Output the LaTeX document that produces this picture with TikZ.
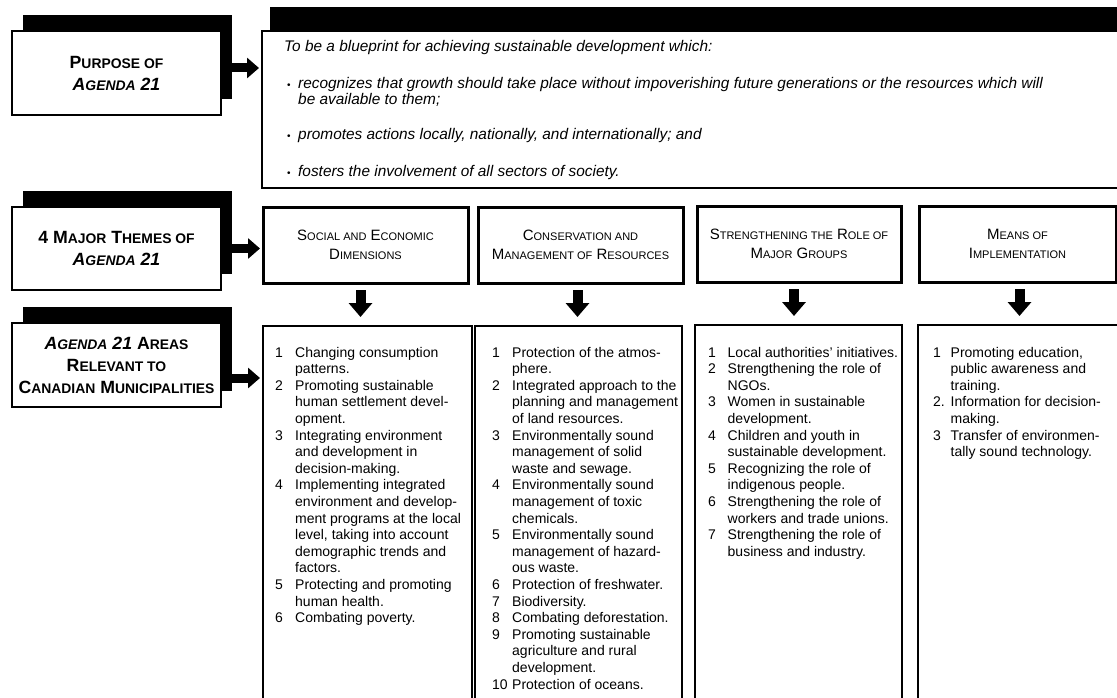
\documentclass[tikz,border=0pt]{standalone}
\usepackage{fontspec}
\setmainfont{Liberation Sans}
\usetikzlibrary{arrows.meta,shadows,calc}
\newcommand\LB[1]{{\fontsize{17.7}{22}\selectfont #1}}
\newcommand\LS[1]{{\fontsize{13.9}{22}\selectfont #1}}
\newcommand\TB[1]{{\fontsize{15}{19}\selectfont #1}}
\newcommand\TS[1]{{\fontsize{11}{19}\selectfont #1}}
\begin{document}
\begin{tikzpicture}[x=1pt,y=-1pt,
  lbl/.style={draw, line width=1.5pt, fill=white, inner sep=0pt, outer sep=0pt,
    anchor=north west, align=center, minimum width=209pt,
    font=\fontsize{17.7}{22}\selectfont\bfseries,
    drop shadow={shadow xshift=11pt, shadow yshift=16pt, fill=black, opacity=1}},
  thm/.style={draw, line width=3pt, fill=white, inner sep=0pt, outer sep=0pt,
    anchor=north west, align=center, minimum height=76pt,
    font=\fontsize{15}{19}\selectfont},
  area/.style={draw, line width=2pt, inner sep=0pt, outer sep=0pt,
    anchor=north west, minimum height=400pt},
  coltext/.style={anchor=base west, inner sep=0pt, font=\fontsize{14}{16.6}\selectfont},
  ptxt/.style={anchor=base west, inner sep=0pt, font=\fontsize{15.4}{15}\selectfont\itshape},
  bul/.style={anchor=base west, inner sep=0pt, font=\fontsize{10}{15}\selectfont},
  rarrow/.style={line width=9pt, -{Triangle[length=12pt,width=20pt]}, shorten >=3pt},
  darrow/.style={line width=10pt, -{Triangle[length=14pt,width=23pt]}}
]
\useasboundingbox (0,0) rectangle (1117,698);
\clip (0,0) rectangle (1117,698);
\fill[white] (0,0) rectangle (1117,698);

% left labels
\node[lbl, minimum height=84pt] (p1) at (12,31)
  {\LB{P}\LS{URPOSE OF}\\\textit{\LB{A}\LS{GENDA} \LB{21}}};
\node[lbl, minimum height=83pt] (t1) at (12,207)
  {\LB{4 M}\LS{AJOR} \LB{T}\LS{HEMES OF}\\\textit{\LB{A}\LS{GENDA} \LB{21}}};
\node[lbl, minimum height=84pt] (a1) at (12,323)
  {\textit{\LB{A}\LS{GENDA} \LB{21}} \LB{A}\LS{REAS}\\\LB{R}\LS{ELEVANT TO}\\\LB{C}\LS{ANADIAN} \LB{M}\LS{UNICIPALITIES}};

% purpose content box
\node[draw, line width=2pt, fill=white, inner sep=0pt, outer sep=0pt, anchor=north west,
  minimum width=880pt, minimum height=157pt,
  drop shadow={shadow xshift=8pt, shadow yshift=24pt, fill=black, opacity=1}] (p2) at (262,31) {};
\node[ptxt] (intro) at (284,52) {To be a blueprint for achieving sustainable development which:};
\node[bul] (d1) at (287,89) {\textbullet};
\node[ptxt] (b1) at (298,89) {\begin{tabular}[t]{@{}l@{}}recognizes that growth should take place without impoverishing future generations or the resources which will\\be available to them;\end{tabular}};
\node[bul] (d2) at (287,140) {\textbullet};
\node[ptxt] (b2) at (298,140) {promotes actions locally, nationally, and internationally; and};
\node[bul] (d3) at (287,176) {\textbullet};
\node[ptxt] (b3) at (298,176) {fosters the involvement of all sectors of society.};

% theme boxes
\node[thm, minimum width=205pt] (s1) at (263,207) {\TB{S}\TS{OCIAL AND} \TB{E}\TS{CONOMIC}\\\TB{D}\TS{IMENSIONS}};
\node[thm, minimum width=205pt] (s2) at (478,207) {\TB{C}\TS{ONSERVATION AND}\\\TB{M}\TS{ANAGEMENT OF} \TB{R}\TS{ESOURCES}};
\node[thm, minimum width=204pt] (s3) at (697,206) {\TB{S}\TS{TRENGTHENING THE} \TB{R}\TS{OLE OF}\\\TB{M}\TS{AJOR} \TB{G}\TS{ROUPS}};
\node[thm, minimum width=197pt] (s4) at (919,206) {\TB{M}\TS{EANS OF}\\\TB{I}\TS{MPLEMENTATION}};

% area boxes
\node[area, minimum width=209pt] (c1) at (263,326) {};
\node[area, minimum width=207pt] (c2) at (475,326) {};
\node[area, minimum width=207pt] (c3) at (695,325) {};
\node[area, minimum width=210pt] (c4) at (918,325) {};

\node[coltext] (c1t) at (275,357) {\begin{tabular}[t]{@{}p{20pt}@{}l@{}}
1 & Changing consumption\\ & patterns.\\
2 & Promoting sustainable\\ & human settlement devel-\\ & opment.\\
3 & Integrating environment\\ & and development in\\ & decision-making.\\
4 & Implementing integrated\\ & environment and develop-\\ & ment programs at the local\\ & level, taking into account\\ & demographic trends and\\ & factors.\\
5 & Protecting and promoting\\ & human health.\\
6 & Combating poverty.
\end{tabular}};
\node[coltext] (c2t) at (492,357) {\begin{tabular}[t]{@{}p{20pt}@{}l@{}}
1 & Protection of the atmos-\\ & phere.\\
2 & Integrated approach to the\\ & planning and management\\ & of land resources.\\
3 & Environmentally sound\\ & management of solid\\ & waste and sewage.\\
4 & Environmentally sound\\ & management of toxic\\ & chemicals.\\
5 & Environmentally sound\\ & management of hazard-\\ & ous waste.\\
6 & Protection of freshwater.\\
7 & Biodiversity.\\
8 & Combating deforestation.\\
9 & Promoting sustainable\\ & agriculture and rural\\ & development.\\
10 & Protection of oceans.
\end{tabular}};
\node[coltext] (c3t) at (708,357) {\begin{tabular}[t]{@{}p{19.5pt}@{}l@{}}
1 & Local authorities' initiatives.\\
2 & Strengthening the role of\\ & NGOs.\\
3 & Women in sustainable\\ & development.\\
4 & Children and youth in\\ & sustainable development.\\
5 & Recognizing the role of\\ & indigenous people.\\
6 & Strengthening the role of\\ & workers and trade unions.\\
7 & Strengthening the role of\\ & business and industry.
\end{tabular}};
\node[coltext] (c4t) at (933,357) {\begin{tabular}[t]{@{}p{17.5pt}@{}l@{}}
1 & Promoting education,\\ & public awareness and\\ & training.\\
2. & Information for decision-\\ & making.\\
3 & Transfer of environmen-\\ & tally sound technology.
\end{tabular}};

% arrows
\draw[rarrow] ([shift={(11,-5)}]p1.east) -- ([shift={(0,-5)}]p1.east -| p2.west);
\draw[rarrow] ([shift={(11,0)}]t1.east) -- (t1.east -| s1.west);
\draw[rarrow] ([shift={(11,13)}]a1.east) -- ([shift={(0,13)}]a1.east -| c1.west);
\draw[darrow, shorten <=7pt, shorten >=9pt] ([xshift=-5pt]s1.south) -- ([xshift=-5pt]s1.south |- c1.north);
\draw[darrow, shorten <=7pt, shorten >=9pt] ([xshift=-3pt]s2.south) -- ([xshift=-3pt]s2.south |- c2.north);
\draw[darrow, shorten <=7pt, shorten >=9pt] ([xshift=-5pt]s3.south) -- ([xshift=-5pt]s3.south |- c3.north);
\draw[darrow, shorten <=7pt, shorten >=9pt] ([xshift=2pt]s4.south) -- ([xshift=2pt]s4.south |- c4.north);
\end{tikzpicture}
\end{document}
